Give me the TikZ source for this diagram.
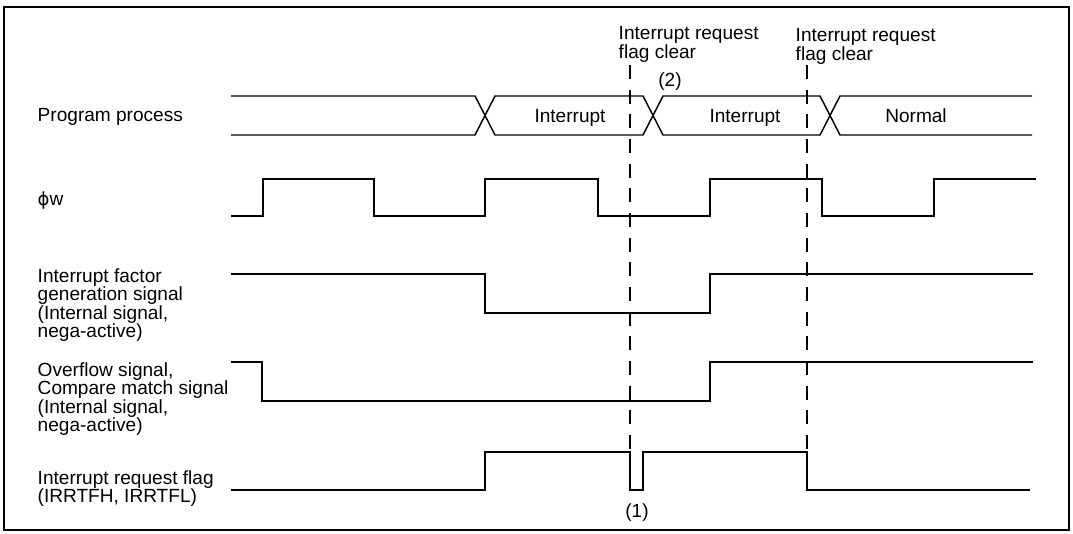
\documentclass[tikz,border=0pt]{standalone}
\usepackage{fontspec}
\setmainfont{Liberation Sans}
\newfontfamily\phifont{DejaVu Sans}
\begin{document}
\begin{tikzpicture}[x=0.75pt,y=-0.75pt,line width=1.1pt,line join=miter,font=\fontsize{14.3}{13.7}\selectfont]
\tikzset{every node/.style={inner sep=0pt},
  lbl/.style={anchor=north west,align=left},
  clr/.style={dash pattern=on 10.5pt off 8pt,line width=0.9pt}}
\useasboundingbox (0,0) rectangle (1073,534);
\draw[line width=1.6pt] (4,7) rectangle (1069,530);
% signal names
\node[anchor=base west] (prog) at (37,122) {Program process};
\node[anchor=base west] (phiw) at (37,206) {{\phifont\fontsize{13.5}{13.5}\selectfont ϕ}w};
\node[lbl] (fact) at (37,268) {Interrupt factor\\generation signal\\(Internal signal,\\nega-active)};
\node[lbl] (ovf) at (37,362) {Overflow signal,\\Compare match signal\\(Internal signal,\\nega-active)};
\node[lbl] (flag) at (37,470) {Interrupt request flag\\(IRRTFH, IRRTFL)};
% program process bus
\draw (231,96)--(475,96)--(495,135)--(643,135)--(663,96)--(820,96)--(840,135)--(1032,135);
\draw (231,135)--(475,135)--(495,96)--(643,96)--(663,135)--(820,135)--(840,96)--(1032,96);
\node[anchor=base] (int1) at (570,123) {Interrupt};
\node[anchor=base] (int2) at (745,123) {Interrupt};
\node[anchor=base] (norm) at (916,123) {Normal};
% waveforms
\draw (231,216)-|(263,179)-|(374,216)-|(485,179)-|(598,216)-|(710,179)-|(822,216)-|(934,179)--(1036,179);
\draw (231,274)-|(485,313)-|(710,274)--(1033,274);
\draw (231,362)-|(262,401)-|(710,362)--(1033,362);
\draw (231,490)-|(485,452)-|(630,490)-|(643,452)-|(807,490)--(1030,490);
% flag clear marks
\foreach \x in {630,807} \draw[clr] (\x,65)--(\x,452);
\node[lbl] (clr1) at (618,26) {Interrupt request\\flag clear};
\node[lbl] (clr2) at (795,28) {Interrupt request\\flag clear};
\node (n2) at (670,82) {(2)};
\node (n1) at (637,513) {(1)};
\end{tikzpicture}
\end{document}
